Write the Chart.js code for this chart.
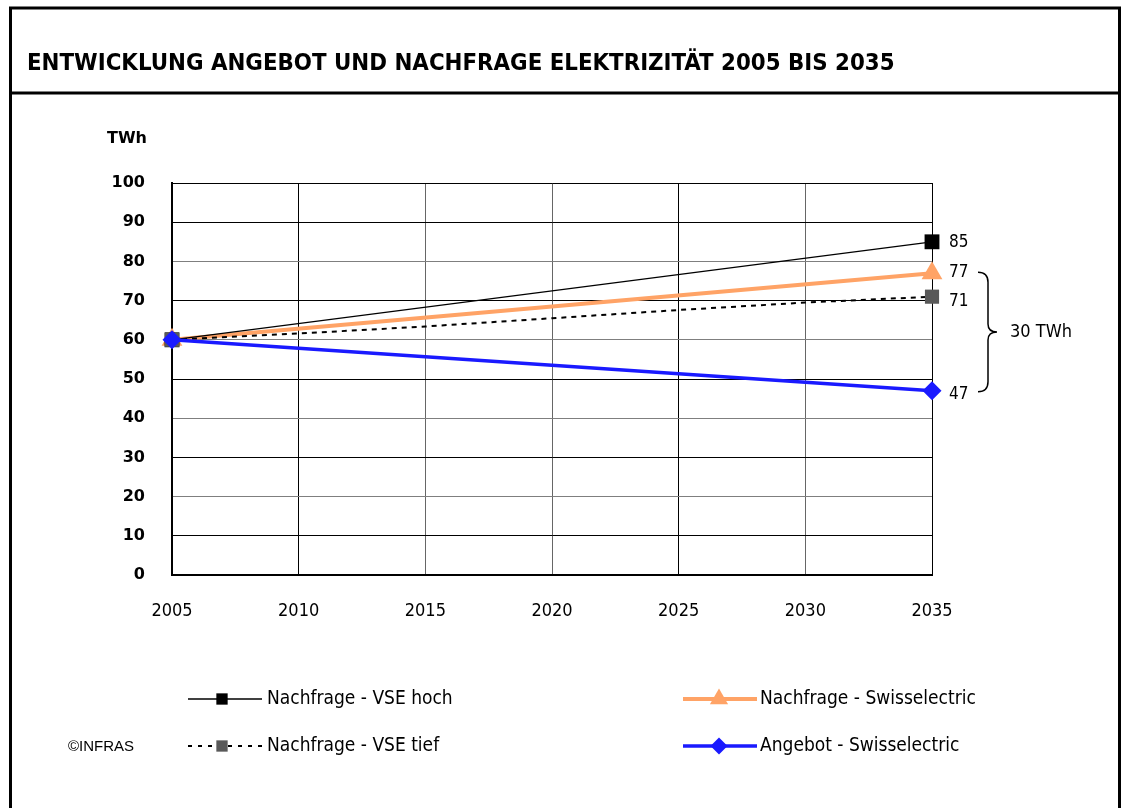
<!DOCTYPE html>
<html><head><meta charset="utf-8">
<script src="https://cdn.jsdelivr.net/npm/chart.js@4.4.1/dist/chart.umd.min.js"></script>
<style>html,body{margin:0;padding:0;background:#fff}canvas{display:block}</style>
</head><body><canvas id="c" width="1121" height="808"></canvas>
<script>
// ---- data ----
const xTickValues = [2005, 2010, 2015, 2020, 2025, 2030, 2035];
const yTickValues = [0, 10, 20, 30, 40, 50, 60, 70, 80, 90, 100];
const vseHochYears = [2005, 2035];
const vseHoch = [60, 85];
const swissDemandYears = [2005, 2035];
const swissDemand = [60, 77];
const vseTiefYears = [2005, 2010, 2015, 2020, 2025, 2030, 2035];
const vseTief = [60, 61.6, 63.4, 65.5, 67.6, 69.5, 71];
const supplyYears = [2005, 2035];
const supply = [60, 47];
const seriesNames = ['Nachfrage - VSE hoch', 'Nachfrage - Swisselectric', 'Nachfrage - VSE tief', 'Angebot - Swisselectric'];
const titleText = 'ENTWICKLUNG ANGEBOT UND NACHFRAGE ELEKTRIZITÄT 2005 BIS 2035';
const unitText = 'TWh';
const creditText = '©INFRAS';

const pts = (xs, ys) => xs.map((x, i) => ({x: x, y: ys[i]}));
const endsOnly = (n, r) => Array.from({length: n}, (_, i) => (i === 0 || i === n - 1) ? r : 0);

const COND = '"DejaVu Sans Condensed", "DejaVu Sans", sans-serif';
const BOLD = '"DejaVu Sans", sans-serif';

const datasets = [
  { label: seriesNames[3], data: pts(supplyYears, supply), borderColor: '#1a1aff', backgroundColor: '#1a1aff',
    borderWidth: 3.5, pointStyle: 'rectRot', pointRadius: 9.5, pointBorderWidth: 0, order: 0, clip: false },
  { label: seriesNames[2], data: pts(vseTiefYears, vseTief), borderColor: '#000', backgroundColor: '#595959',
    borderWidth: 2, borderDash: [5, 5], pointStyle: 'rect', pointRadius: endsOnly(vseTief.length, 10),
    pointBorderWidth: 0, order: 1, clip: false },
  { label: seriesNames[0], data: pts(vseHochYears, vseHoch), borderColor: '#000', backgroundColor: '#000',
    borderWidth: 1.3, pointStyle: 'rect', pointRadius: 10.5, pointBorderWidth: 0, order: 2, clip: false },
  { label: seriesNames[1], data: pts(swissDemandYears, swissDemand), borderColor: '#ffa366', backgroundColor: '#ffa366',
    borderWidth: 4, pointStyle: 'triangle', pointRadius: 12, pointBorderWidth: 0, order: 3, clip: false }
];

const overlay = {
  id: 'overlay',
  afterDraw(chart) {
    const ctx = chart.ctx, xs = chart.scales.x, ys = chart.scales.y;
    ctx.save();
    // frame
    ctx.strokeStyle = '#000'; ctx.lineWidth = 3;
    ctx.beginPath();
    ctx.moveTo(10.5, 808); ctx.lineTo(10.5, 8); ctx.lineTo(1119.5, 8); ctx.lineTo(1119.5, 808);
    ctx.moveTo(9, 93); ctx.lineTo(1121, 93);
    ctx.stroke();
    // title (fit width)
    let fs = 24;
    ctx.font = 'bold ' + fs + 'px ' + COND;
    const w = ctx.measureText(titleText).width;
    fs = fs * 868 / w;
    ctx.font = 'bold ' + fs + 'px ' + COND;
    ctx.fillStyle = '#000'; ctx.textAlign = 'left'; ctx.textBaseline = 'alphabetic';
    ctx.fillText(titleText, 27, 70);
    // unit
    ctx.font = 'bold 16px ' + BOLD; ctx.textAlign = 'right'; ctx.textBaseline = 'middle';
    ctx.fillText(unitText, 147, 139);
    // end value labels
    ctx.font = '17px ' + COND; ctx.textAlign = 'left';
    const ends = [vseHoch, swissDemand, vseTief, supply];
    const dy = [1, -1, 5, 4];
    ends.forEach((arr, i) => {
      const v = arr[arr.length - 1];
      ctx.fillText(String(Math.round(v)), 949, ys.getPixelForValue(v) + dy[i]);
    });
    // brace between swissDemand end and supply end
    const yTop = ys.getPixelForValue(swissDemand[swissDemand.length - 1]) - 1;
    const yBot = ys.getPixelForValue(supply[supply.length - 1]) + 1;
    const yMid = (yTop + yBot) / 2;
    const bx0 = 978, bx1 = 988, bx2 = 997;
    ctx.lineWidth = 1.5; ctx.strokeStyle = '#000';
    ctx.beginPath();
    ctx.moveTo(bx0, yTop);
    ctx.quadraticCurveTo(bx1, yTop, bx1, yTop + 10);
    ctx.lineTo(bx1, yMid - 8);
    ctx.quadraticCurveTo(bx1, yMid, bx2, yMid);
    ctx.quadraticCurveTo(bx1, yMid, bx1, yMid + 8);
    ctx.lineTo(bx1, yBot - 10);
    ctx.quadraticCurveTo(bx1, yBot, bx0, yBot);
    ctx.stroke();
    const diff = Math.round(swissDemand[swissDemand.length - 1] - supply[supply.length - 1]);
    ctx.font = '18px ' + COND;
    ctx.fillText(diff + ' ' + unitText, 1010, yMid);
    // legend
    const H = Chart.helpers;
    const items = [
      {ds: datasets[2], x1: 188, x2: 262, mx: 222, y: 699, tx: 267, r: 8},
      {ds: datasets[3], x1: 683, x2: 757, mx: 719, y: 699, tx: 760, r: 10.5},
      {ds: datasets[1], x1: 188, x2: 262, mx: 222, y: 746, tx: 267, r: 8},
      {ds: datasets[0], x1: 683, x2: 757, mx: 719, y: 746, tx: 760, r: 8.5}
    ];
    items.forEach(it => {
      const ds = it.ds;
      ctx.save();
      ctx.strokeStyle = ds.borderColor; ctx.lineWidth = ds.borderWidth;
      ctx.setLineDash(ds.borderDash ? [4, 6] : []);
      ctx.beginPath(); ctx.moveTo(it.x1, it.y); ctx.lineTo(it.x2, it.y); ctx.stroke();
      ctx.restore();
      ctx.fillStyle = ds.backgroundColor; ctx.strokeStyle = ds.backgroundColor;
      H.drawPoint(ctx, {pointStyle: ds.pointStyle, radius: it.r, rotation: 0, borderWidth: 0}, it.mx, it.y);
      ctx.fillStyle = '#000'; ctx.font = '19px ' + COND; ctx.textAlign = 'left'; ctx.textBaseline = 'middle';
      ctx.fillText(ds.label, it.tx, it.y);
    });
    // credit
    ctx.font = '15px "Liberation Sans", Arial, sans-serif'; ctx.textAlign = 'left';
    ctx.fillText(creditText, 68, 747);
    ctx.restore();
  }
};

const hGrid = ctx => (ctx.tick && ctx.tick.value % 20 === 0 && ctx.tick.value !== 0 && ctx.tick.value !== 100) ? '#7f7f7f' : '#000';
const vGrid = ctx => (ctx.tick && [2015, 2020, 2030].includes(ctx.tick.value)) ? '#666' : '#000';

new Chart(document.getElementById('c'), {
  type: 'line',
  data: { datasets: datasets },
  options: {
    responsive: false, animation: false, devicePixelRatio: 1,
    layout: { padding: { left: 0, top: 183, right: 189, bottom: 0 } },
    plugins: { legend: { display: false }, tooltip: { enabled: false }, title: { display: false } },
    elements: { line: { tension: 0 } },
    scales: {
      x: {
        type: 'linear', min: xTickValues[0], max: xTickValues[xTickValues.length - 1],
        afterBuildTicks: s => { s.ticks = xTickValues.map(v => ({value: v})); },
        afterFit: s => { s.height = 233; },
        grid: { color: vGrid, lineWidth: 1, drawTicks: false },
        border: { color: '#000', width: 2 },
        ticks: { padding: 26, color: '#000', font: { family: COND, size: 18 }, callback: v => String(v), maxRotation: 0 }
      },
      y: {
        type: 'linear', min: yTickValues[0], max: yTickValues[yTickValues.length - 1],
        afterBuildTicks: s => { s.ticks = yTickValues.map(v => ({value: v})); },
        afterFit: s => { s.width = 172; },
        grid: { color: hGrid, lineWidth: 1, drawTicks: false },
        border: { color: '#000', width: 2 },
        ticks: { padding: 27, color: '#000', font: { family: BOLD, size: 16, weight: 'bold' }, callback: v => String(v) }
      }
    }
  },
  plugins: [overlay]
});
</script>
</body></html>
